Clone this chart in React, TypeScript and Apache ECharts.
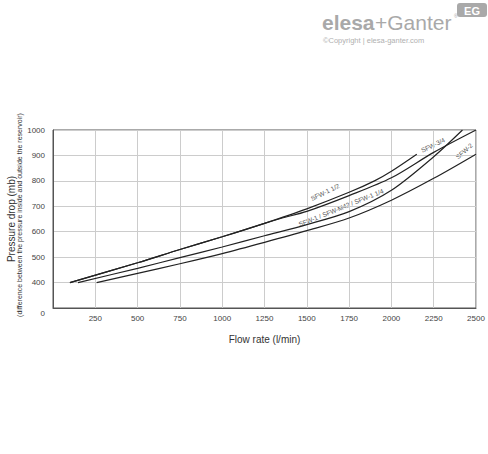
import React, { useEffect, useRef } from 'react';
import * as echarts from 'echarts';

// Flow rate (l/min) -> pressure drop (mb)
const sfw112X = [100, 500, 750, 1000, 1250, 1500, 1750, 1900, 2000, 2150];
const sfw112Y = [400, 478, 530, 580, 633, 690, 755, 800, 838, 905];
const sfw34X = [100, 500, 750, 1000, 1250, 1350, 1500, 1750, 2000, 2250, 2500];
const sfw34Y = [400, 478, 530, 580, 633, 653, 680, 742, 812, 912, 1000];
const sfw1X = [148, 500, 750, 1000, 1250, 1500, 1750, 2000, 2250, 2420];
const sfw1Y = [400, 456, 498, 540, 584, 628, 679, 763, 895, 1000];
const sfw2X = [258, 500, 750, 1000, 1250, 1500, 1750, 2000, 2250, 2500];
const sfw2Y = [400, 436, 474, 514, 558, 604, 654, 724, 810, 905];

const xMin = 0;
const xMax = 2500;
const xStep = 250;
const yMin = 300;
const yMax = 1000;
const yStep = 100;

const FONT = "'Liberation Sans Narrow', 'Arial Narrow', 'Liberation Sans', Arial, sans-serif";
const LOGO_FONT = "'Liberation Sans', Arial, sans-serif";

function pairs(xs: number[], ys: number[]) {
  return xs.map((x, i) => [x, ys[i]]);
}

export default function App() {
  const ref = useRef<HTMLDivElement>(null);
  useEffect(() => {
    if (!ref.current) return;
    const chart = echarts.init(ref.current, null, { renderer: 'svg' });
    const lineStyle = { color: '#222', width: 1.2 };
    const mk = (name: string, xs: number[], ys: number[]) => ({
      name,
      type: 'line',
      data: pairs(xs, ys),
      smooth: 0.3,
      showSymbol: false,
      symbol: 'none',
      lineStyle,
      silent: true,
    });
    const deg = Math.PI / 180;
    const lblStyle = { fill: '#555', fontSize: 6.5, fontFamily: FONT, align: 'center', verticalAlign: 'middle' };
    chart.setOption({
      animation: false,
      backgroundColor: '#fff',
      grid: { left: 53, right: 12, top: 130, bottom: 146, show: true, borderColor: '#555', borderWidth: 1 },
      xAxis: {
        type: 'value',
        min: xMin,
        max: xMax,
        interval: xStep,
        name: 'Flow rate (l/min)',
        nameLocation: 'middle',
        nameGap: 26,
        nameTextStyle: { fontSize: 10, color: '#333', fontFamily: FONT },
        axisLine: { show: true, lineStyle: { color: '#555' } },
        axisTick: { show: false },
        axisLabel: {
          fontSize: 8,
          color: '#444',
          fontFamily: FONT,
          margin: 6,
          formatter: (v: number) => (v === 0 ? '' : String(v)),
        },
        splitLine: { show: true, lineStyle: { color: '#ccc', width: 1 } },
      },
      yAxis: {
        type: 'value',
        min: yMin,
        max: yMax,
        interval: yStep,
        axisLine: { show: true, lineStyle: { color: '#555' } },
        axisTick: { show: false },
        axisLabel: {
          fontSize: 8,
          color: '#444',
          fontFamily: FONT,
          margin: 8,
          formatter: (v: number) => (v === yMin ? '{z|0}' : String(v)),
          rich: { z: { fontSize: 8, color: '#444', fontFamily: FONT, padding: [10, 0, 0, 0] } },
        },
        splitLine: { show: true, lineStyle: { color: '#ccc', width: 1 } },
      },
      series: [
        mk('SFW-1 1/2', sfw112X, sfw112Y),
        mk('SFW-3/4', sfw34X, sfw34Y),
        mk('SFW-1 / SFW-M42 / SFW-1 1/4', sfw1X, sfw1Y),
        mk('SFW-2', sfw2X, sfw2Y),
      ],
      graphic: [
        { type: 'text', x: 11, y: 219, rotation: 90 * deg, style: { text: 'Pressure drop (mb)', fill: '#333', fontSize: 10, fontFamily: FONT, align: 'center', verticalAlign: 'middle' } },
        { type: 'text', x: 19.5, y: 215, rotation: 90 * deg, style: { text: '(difference between the pressure inside and outside the reservoir)', fill: '#333', fontSize: 7, fontFamily: FONT, align: 'center', verticalAlign: 'middle' } },
        { type: 'text', x: 325, y: 192, rotation: 26 * deg, style: { ...lblStyle, text: 'SFW-1 1/2' } },
        { type: 'text', x: 341, y: 207.5, rotation: 22 * deg, style: { ...lblStyle, text: 'SFW-1 / SFW-M42 / SFW-1 1/4' } },
        { type: 'text', x: 433, y: 145, rotation: 26 * deg, style: { ...lblStyle, text: 'SFW-3/4' } },
        { type: 'text', x: 464, y: 151, rotation: 42 * deg, style: { ...lblStyle, text: 'SFW-2' } },
        // logo
        { type: 'text', x: 322, y: 33, style: { text: 'elesa', fill: '#a9a9a9', fontSize: 21, fontWeight: 'bold', fontFamily: LOGO_FONT, verticalAlign: 'bottom', align: 'left' } },
        { type: 'text', x: 375, y: 33, style: { text: '+Ganter', fill: '#a9a9a9', fontSize: 21, fontFamily: LOGO_FONT, verticalAlign: 'bottom', align: 'left' } },
        { type: 'text', x: 454, y: 18, style: { text: '®', fill: '#a9a9a9', fontSize: 5, fontFamily: LOGO_FONT, verticalAlign: 'bottom', align: 'left' } },
        { type: 'text', x: 323, y: 40, style: { text: '©Copyright | elesa-ganter.com', fill: '#b0b0b0', fontSize: 7.5, fontFamily: LOGO_FONT, verticalAlign: 'middle', align: 'left' } },
        { type: 'rect', shape: { x: 457, y: 3, width: 30, height: 14, r: [3, 3, 3, 3] }, style: { fill: '#a9a9a9' } },
        { type: 'text', x: 472, y: 10.5, style: { text: 'EG', fill: '#fff', fontSize: 11, fontWeight: 'bold', fontFamily: LOGO_FONT, align: 'center', verticalAlign: 'middle' } },
      ],
    });
    return () => chart.dispose();
  }, []);
  return <div ref={ref} style={{ position: 'absolute', left: 0, top: 0, width: 488, height: 454 }} />;
}
